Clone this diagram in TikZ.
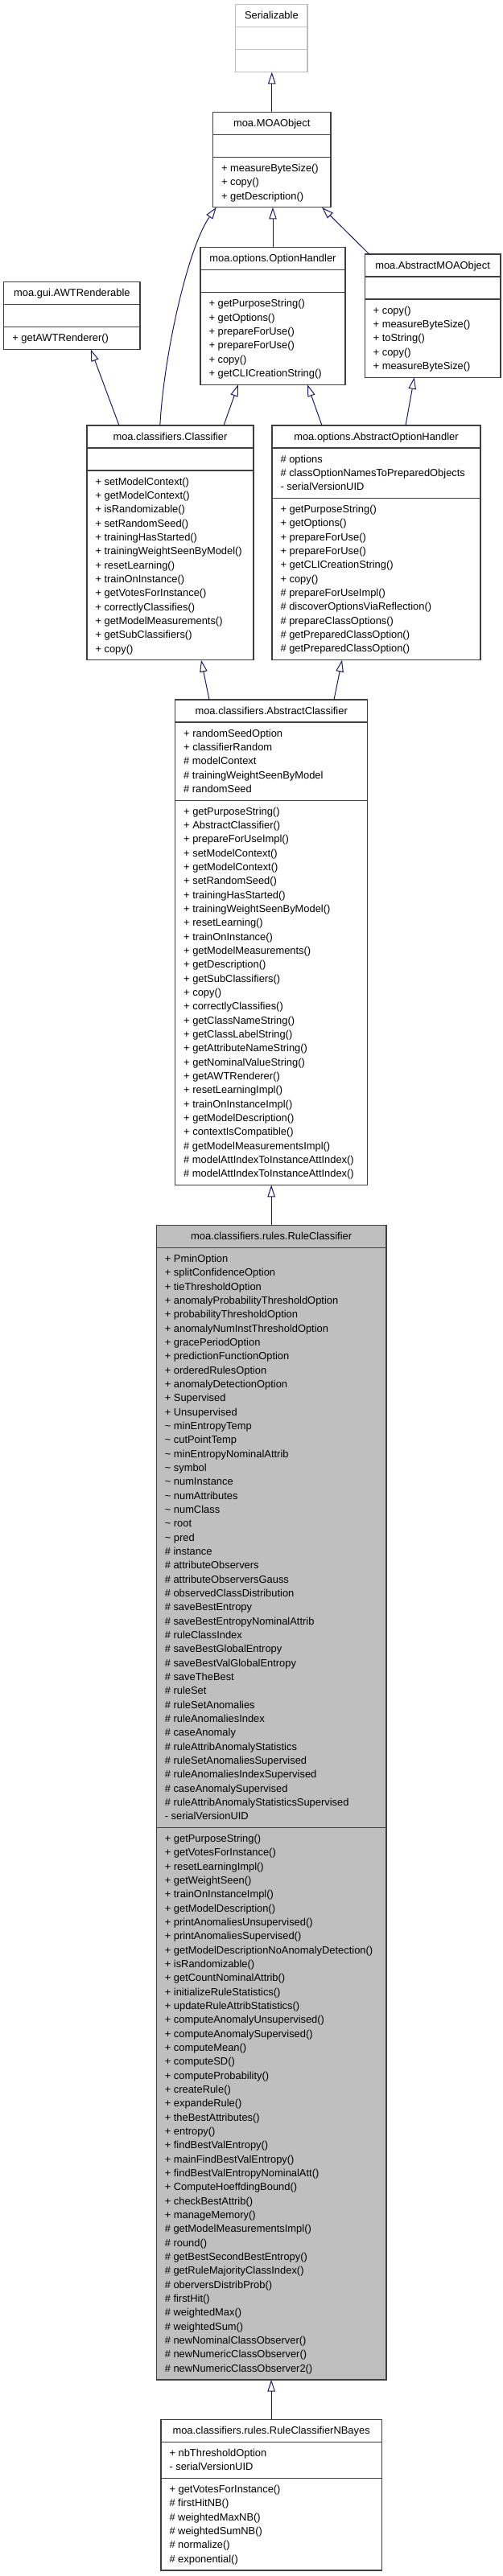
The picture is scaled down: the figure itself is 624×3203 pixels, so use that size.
\documentclass[tikz,border=0pt]{standalone}
\usepackage{fontspec}
\setmainfont{Liberation Sans}
\usetikzlibrary{arrows.meta}
\definecolor{edgec}{HTML}{191970}
\definecolor{bordc}{HTML}{404040}
\definecolor{rcfill}{HTML}{BFBFBF}
\definecolor{lgray}{HTML}{BFBFBF}
\tikzset{
  umlbox/.style={draw=bordc, line width=1.2pt, fill=white, inner sep=0pt, outer sep=0pt, rectangle},
  litebox/.style={umlbox, draw=lgray},
  curbox/.style={umlbox, fill=rcfill},
  divline/.style={draw=bordc, line width=1.2pt},
  litediv/.style={draw=lgray, line width=1.2pt},
  lbl/.style={anchor=base west, inner sep=0pt, outer sep=0pt, font=\fontsize{12.9}{15}\selectfont},
  ttl/.style={lbl, anchor=base},
  inh/.style={draw=edgec, line width=1pt, -{Triangle[open, length=14.7pt, width=9.5pt, fill=white]}},
}
% #1 name prefix, #2 x, #3 first line centre y, #4 list
\newcommand\seclines[4]{%
  \foreach \t [count=\i from 0] in {#4} {\node[lbl] (#1-\i) at ({#2},{#3+\i*17.333+4.5}) {\t};}}
% #1 name, #2 L, #3 R, #4 T, #5 B, #6 style
\newcommand\ubox[6]{\node[#6, anchor=north west, minimum width={#3-#2}, minimum height={#5-#4}] (#1) at (#2,#4) {};}
\begin{document}
\begin{tikzpicture}[x=1pt, y=-1pt]
\useasboundingbox (0,0) rectangle (624,3203);

% Serializable
\ubox{ser}{292.7}{382}{5.7}{89.7}{litebox}
\draw[litediv] (292.7,33.7) -- (382,33.7);
\draw[litediv] (292.7,61.7) -- (382,61.7);
\node[ttl] (ser-t) at (337.35,{5.7+13.5+4.5}) {Serializable};

% MOAObject
\ubox{moa}{264.5}{411}{139.3}{257.8}{umlbox}
\draw[divline] (264.5,167.3) -- (411,167.3);
\draw[divline] (264.5,195.3) -- (411,195.3);
\node[ttl] (moa-t) at (337.75,{139.3+13.5+4.5}) {moa.MOAObject};
\seclines{moam}{275}{208.9}{+ measureByteSize(), + copy(), + getDescription()}

% OptionHandler
\ubox{opt}{249}{429}{307.7}{478.2}{umlbox}
\draw[divline] (249,335.7) -- (429,335.7);
\draw[divline] (249,363.7) -- (429,363.7);
\node[ttl] (opt-t) at (339,{307.7+13.5+4.5}) {moa.options.OptionHandler};
\seclines{optm}{259.5}{377.3}{+ getPurposeString(), + getOptions(), + prepareForUse(), + prepareForUse(), + copy(), + getCLICreationString()}

% AbstractMOAObject
\ubox{amo}{453.2}{622}{316}{469.2}{umlbox}
\draw[divline] (453.2,344) -- (622,344);
\draw[divline] (453.2,372) -- (622,372);
\node[ttl] (amo-t) at (537.6,{316+13.5+4.5}) {moa.AbstractMOAObject};
\seclines{amom}{463.7}{385.6}{+ copy(), + measureByteSize(), + toString(), + copy(), + measureByteSize()}

% AWTRenderable
\ubox{awt}{4.8}{174}{350.7}{434.5}{umlbox}
\draw[divline] (4.8,378.7) -- (174,378.7);
\draw[divline] (4.8,406.7) -- (174,406.7);
\node[ttl] (awt-t) at (89.4,{350.7+13.5+4.5}) {moa.gui.AWTRenderable};
\seclines{awtm}{15.3}{420.3}{+ getAWTRenderer()}

% Classifier
\ubox{cls}{108}{315}{529}{820.8}{umlbox}
\draw[divline] (108,557) -- (315,557);
\draw[divline] (108,585) -- (315,585);
\node[ttl] (cls-t) at (211.5,{529+13.5+4.5}) {moa.classifiers.Classifier};
\seclines{clsm}{118.5}{598.6}{+ setModelContext(), + getModelContext(), + isRandomizable(), + setRandomSeed(), + trainingHasStarted(), + trainingWeightSeenByModel(), + resetLearning(), + trainOnInstance(), + getVotesForInstance(), + correctlyClassifies(), + getModelMeasurements(), + getSubClassifiers(), + copy()}

% AbstractOptionHandler
\ubox{aoh}{338}{597}{529}{820.7}{umlbox}
\draw[divline] (338,557) -- (597,557);
\draw[divline] (338,619.5) -- (597,619.5);
\node[ttl] (aoh-t) at (467.5,{529+13.5+4.5}) {moa.options.AbstractOptionHandler};
\seclines{aoha}{348.5}{570.6}{\# options, \# classOptionNamesToPreparedObjects, - serialVersionUID}
\seclines{aohm}{348.5}{633.1}{+ getPurposeString(), + getOptions(), + prepareForUse(), + prepareForUse(), + getCLICreationString(), + copy(), \# prepareForUseImpl(), \# discoverOptionsViaReflection(), \# prepareClassOptions(), \# getPreparedClassOption(), \# getPreparedClassOption()}

% AbstractClassifier
\ubox{ac}{217.7}{456.7}{870}{1473.6}{umlbox}
\draw[divline] (217.7,898) -- (456.7,898);
\draw[divline] (217.7,995.2) -- (456.7,995.2);
\node[ttl] (ac-t) at (337.2,{870+13.5+4.5}) {moa.classifiers.AbstractClassifier};
\seclines{aca}{228.2}{911.6}{+ randomSeedOption, + classifierRandom, \# modelContext, \# trainingWeightSeenByModel, \# randomSeed}
\seclines{acm}{228.2}{1008.8}{+ getPurposeString(), + AbstractClassifier(), + prepareForUseImpl(), + setModelContext(), + getModelContext(), + setRandomSeed(), + trainingHasStarted(), + trainingWeightSeenByModel(), + resetLearning(), + trainOnInstance(), + getModelMeasurements(), + getDescription(), + getSubClassifiers(), + copy(), + correctlyClassifies(), + getClassNameString(), + getClassLabelString(), + getAttributeNameString(), + getNominalValueString(), + getAWTRenderer(), + resetLearningImpl(), + trainOnInstanceImpl(), + getModelDescription(), + contextIsCompatible(), \# getModelMeasurementsImpl(), \# modelAttIndexToInstanceAttIndex(), \# modelAttIndexToInstanceAttIndex()}

% RuleClassifier
\ubox{rc}{194.3}{480}{1523.3}{2958.9}{curbox}
\draw[divline] (194.3,1551.3) -- (480,1551.3);
\draw[divline] (194.3,2272.45) -- (480,2272.45);
\node[ttl] (rc-t) at (337.15,{1523.3+13.5+4.5}) {moa.classifiers.rules.RuleClassifier};
\seclines{rca}{204.8}{1564.9}{+ PminOption, + splitConfidenceOption, + tieThresholdOption, + anomalyProbabilityThresholdOption, + probabilityThresholdOption, + anomalyNumInstThresholdOption, + gracePeriodOption, + predictionFunctionOption, + orderedRulesOption, + anomalyDetectionOption, + Supervised, + Unsupervised, \textasciitilde{} minEntropyTemp, \textasciitilde{} cutPointTemp, \textasciitilde{} minEntropyNominalAttrib, \textasciitilde{} symbol, \textasciitilde{} numInstance, \textasciitilde{} numAttributes, \textasciitilde{} numClass, \textasciitilde{} root, \textasciitilde{} pred, \# instance, \# attributeObservers, \# attributeObserversGauss, \# observedClassDistribution, \# saveBestEntropy, \# saveBestEntropyNominalAttrib, \# ruleClassIndex, \# saveBestGlobalEntropy, \# saveBestValGlobalEntropy, \# saveTheBest, \# ruleSet, \# ruleSetAnomalies, \# ruleAnomaliesIndex, \# caseAnomaly, \# ruleAttribAnomalyStatistics, \# ruleSetAnomaliesSupervised, \# ruleAnomaliesIndexSupervised, \# caseAnomalySupervised, \# ruleAttribAnomalyStatisticsSupervised, - serialVersionUID}
\seclines{rcm}{204.8}{2286.05}{+ getPurposeString(), + getVotesForInstance(), + resetLearningImpl(), + getWeightSeen(), + trainOnInstanceImpl(), + getModelDescription(), + printAnomaliesUnsupervised(), + printAnomaliesSupervised(), + getModelDescriptionNoAnomalyDetection(), + isRandomizable(), + getCountNominalAttrib(), + initializeRuleStatistics(), + updateRuleAttribStatistics(), + computeAnomalyUnsupervised(), + computeAnomalySupervised(), + computeMean(), + computeSD(), + computeProbability(), + createRule(), + expandeRule(), + theBestAttributes(), + entropy(), + findBestValEntropy(), + mainFindBestValEntropy(), + findBestValEntropyNominalAtt(), + ComputeHoeffdingBound(), + checkBestAttrib(), + manageMemory(), \# getModelMeasurementsImpl(), \# round(), \# getBestSecondBestEntropy(), \# getRuleMajorityClassIndex(), \# oberversDistribProb(), \# firstHit(), \# weightedMax(), \# weightedSum(), \# newNominalClassObserver(), \# newNumericClassObserver(), \# newNumericClassObserver2()}

% RuleClassifierNBayes
\ubox{nb}{200}{474.3}{3008.3}{3196}{umlbox}
\draw[divline] (200,3036.3) -- (474.3,3036.3);
\draw[divline] (200,3081.47) -- (474.3,3081.47);
\node[ttl] (nb-t) at (337.15,{3008.3+13.5+4.5}) {moa.classifiers.rules.RuleClassifierNBayes};
\seclines{nba}{210.5}{3049.9}{+ nbThresholdOption, - serialVersionUID}
\seclines{nbm}{210.5}{3095.07}{+ getVotesForInstance(), \# firstHitNB(), \# weightedMaxNB(), \# weightedSumNB(), \# normalize(), \# exponential()}

% inheritance connectors
\draw[inh] (moa.north) -- (moa.north |- ser.south);
\draw[inh] ([xshift=90.8pt]cls.north west) .. controls ([xshift=95.8pt,yshift=90pt]cls.north west) and ([xshift=-30.5pt,yshift=-48.8pt]moa.south west) .. ([xshift=4.3pt]moa.south west);
\draw[inh] (opt.north) -- (opt.north |- moa.south);
\draw[inh] ([xshift=5.6pt]amo.north west) -- ([xshift=-11pt]moa.south east);
\draw[inh] ([xshift=40pt]cls.north west) -- ([xshift=108pt]awt.south west);
\draw[inh] ([xshift=-37pt]cls.north east) -- ([xshift=47pt]opt.south west);
\draw[inh] ([xshift=62pt]aoh.north west) -- ([xshift=-47pt]opt.south east);
\draw[inh] ([xshift=-93pt]aoh.north east) -- ([xshift=61.6pt]amo.south west);
\draw[inh] ([xshift=42.3pt]ac.north west) -- ([xshift=-65pt]cls.south east);
\draw[inh] ([xshift=-41.7pt]ac.north east) -- ([xshift=87pt]aoh.south west);
\draw[inh] (rc.north) -- (rc.north |- ac.south);
\draw[inh] (nb.north) -- (nb.north |- rc.south);
\end{tikzpicture}
\end{document}
